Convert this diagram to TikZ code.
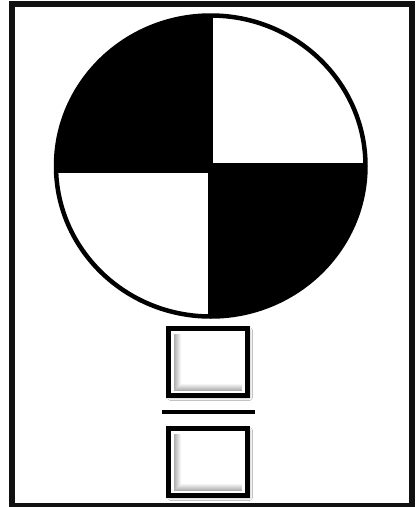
\documentclass[tikz,border=0pt]{standalone}
\definecolor{TargetBlack}{HTML}{000000}
\definecolor{FrameBlack}{HTML}{111111}
\definecolor{PaperWhite}{HTML}{FFFFFF}
\usetikzlibrary{positioning,calc,shadows.blur}

\begin{document}
\begin{tikzpicture}[x=1pt, y=-1pt,
    digitbox/.style={draw=TargetBlack, fill=PaperWhite, line width=5pt, outer sep=0pt,
      minimum width=79pt, minimum height=67pt,
      blur shadow={shadow xshift=2pt, shadow yshift=-2pt, shadow blur radius=3pt}}]
    \useasboundingbox (0,0) rectangle (418,507);
    \fill[PaperWhite] (0,0) rectangle (418,507);
    \draw[FrameBlack, line width=6pt] (12,4) rectangle (412,505.5);
    % quartered disc
    \begin{scope}
      \clip (210.75,166) ellipse [x radius=154.75, y radius=150.5];
      \fill[TargetBlack] (50,10) rectangle (213,173);
      \fill[TargetBlack] (208,163) rectangle (370,322);
    \end{scope}
    \draw[TargetBlack, line width=4.5pt] (210.75,166) ellipse [x radius=154.75, y radius=150.5];
    % fraction below
    \node[digitbox] (num) at (208,362) {};
    \node[digitbox] (den) at (208,462) {};
    \coordinate (barL) at ($(num.south west)+(-6.5,16.5)$);
    \coordinate (barR) at ($(num.south east)+(7.5,16.5)$);
    \draw[TargetBlack, line width=4pt] (barL) -- (barR);
    \foreach \b in {num,den}{
      \foreach \k [evaluate=\k as \op using 0.36-0.045*\k] in {1,...,7}{
        \draw[TargetBlack, opacity=\op, line width=1pt]
          ($(\b.north west)+(4.5+\k,5.5)$) -- ($(\b.south west)+(4.5+\k,-4.5-\k)$)
          -- ($(\b.south east)+(-5.5,-4.5-\k)$);
      }
    }
  \end{tikzpicture}
\end{document}
